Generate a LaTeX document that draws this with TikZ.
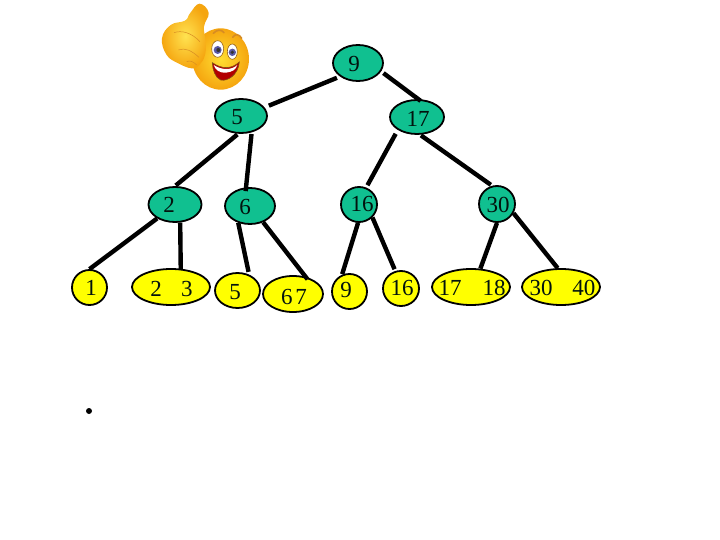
\documentclass[tikz,border=0pt]{standalone}
\usepackage{fontspec}
\setmainfont{Liberation Serif}
\usetikzlibrary{shapes.geometric}
\definecolor{teal1}{RGB}{16,192,144}
\definecolor{yel1}{RGB}{255,255,0}
\definecolor{emoY}{RGB}{255,222,50}
\definecolor{emoO}{RGB}{245,165,15}
\definecolor{emoL}{RGB}{215,140,35}
\tikzset{
  innernode/.style={ellipse,draw=black,line width=1.8pt,fill=teal1,inner sep=0pt},
  leafnode/.style={ellipse,draw=black,line width=1.8pt,fill=yel1,inner sep=0pt},
  txt/.style={inner sep=0pt,font=\fontsize{23}{23}\selectfont,text=black!90!teal1},
  edge1/.style={line width=4.4pt,black},
  emoline/.style={emoL,line width=0.5pt},
}
\begin{document}
\begin{tikzpicture}[x=1pt,y=-1pt]
\useasboundingbox (0,0) rectangle (720,540);
\path
 (358,63) node[innernode,minimum width=50pt,minimum height=36pt] (n9) {}
 (241,116) node[innernode,minimum width=52pt,minimum height=34pt] (n5) {}
 (417,117) node[innernode,minimum width=54pt,minimum height=34pt] (n17) {}
 (175,204.5) node[innernode,minimum width=53pt,minimum height=35pt] (n2) {}
 (250,206) node[innernode,minimum width=50pt,minimum height=36pt] (n6) {}
 (359,204.5) node[innernode,minimum width=36pt,minimum height=35pt] (n16) {}
 (497,204) node[innernode,minimum width=36pt,minimum height=36pt] (n30) {}
 (89.5,287.5) node[leafnode,minimum width=35pt,minimum height=35pt] (l1) {}
 (171,287) node[leafnode,minimum width=78pt,minimum height=36pt] (l23) {}
 (237.5,290.5) node[leafnode,minimum width=45pt,minimum height=35pt] (l5) {}
 (293,294) node[leafnode,minimum width=60pt,minimum height=36pt] (l67) {}
 (349.5,291.5) node[leafnode,minimum width=35pt,minimum height=35pt] (l9) {}
 (401,288.5) node[leafnode,minimum width=36pt,minimum height=35pt] (l16) {}
 (471,287) node[leafnode,minimum width=78pt,minimum height=36pt] (l1718) {}
 (561,287) node[leafnode,minimum width=78pt,minimum height=36pt] (l3040) {};
% connectors
\draw[edge1,shorten <=3.3pt,shorten >=4.6pt] (n9.217) -- (n5.20);
\draw[edge1,shorten <=2.8pt,shorten >=-3pt] (n9.-20) -- (n17.86);
\draw[edge1,shorten <=1.1pt,shorten >=1pt] (n5.261) -- (n2.90);
\draw[edge1,shorten <=1.6pt,shorten >=-3.8pt] (n5.-57) -- (n6.102);
\draw[edge1,shorten <=4.4pt,shorten >=2.6pt] (n17.214) -- (n16.67);
\draw[edge1,shorten <=1pt,shorten >=1.6pt] (n17.-80) -- (n30.105);
\draw[edge1] (n2.218) -- (l1.90);
\draw[edge1,shorten >=-0.6pt] (n2.-74) -- (l23.62);
\draw[edge1,shorten >=2.7pt] (n6.235) -- (l5.54);
\draw[edge1,shorten >=-3.3pt] (n6.-51) -- (l67.54);
\draw[edge1,shorten >=0.6pt] (n16.267) -- (l9.114);
\draw[edge1,shorten >=1.9pt] (n16.-44) -- (l16.108);
\draw[edge1] (n30.270) -- (l1718.63);
\draw[edge1] (n30.-29) -- (l3040.100);
% labels
\node[txt] (t9) at (354,64) {9};
\node[txt] (t5) at (237,117) {5};
\node[txt] (t17) at (418,118.5) {17};
\node[txt] (t2) at (169,205) {2};
\node[txt] (t6) at (245,207) {6};
\node[txt] (t16) at (362,204) {16};
\node[txt] (t30) at (498,205) {30};
\node[txt] (t1) at (91,288) {1};
\node[txt] (t23) at (171.5,289) {2\hspace{19.5pt}3};
\node[txt] (t55) at (235,292) {5};
\node[txt] (t67) at (294,297) {6\hspace{3pt}7};
\node[txt] (t99) at (346,290) {9};
\node[txt] (t166) at (402,288) {16};
\node[txt] (t1718) at (472,288) {17\hspace{21pt}18};
\node[txt] (t3040) at (562.5,288) {30\hspace{20pt}40};
\fill[black] (89,411) circle (3pt);
% emoji
\begin{scope}[shift={(150,0)},x=0.3333pt,y=-0.3333pt]
 % face
 \shade[inner color=emoY,outer color=emoO]
   (212,177) ellipse (85 and 92);
 % eyebrows
 \draw[emoL,line width=1.6pt,line cap=round] (190,100) .. controls (200,88) and (215,88) .. (222,98);
 \draw[emoL,line width=1.6pt,line cap=round] (248,112) .. controls (255,100) and (268,102) .. (275,115);
 % eyes
 \filldraw[fill=white,draw=emoL!70!black,line width=0.6pt] (203,147) ellipse (18 and 25);
 \filldraw[fill=white,draw=emoL!70!black,line width=0.6pt] (247,155) ellipse (15 and 23);
 \fill[blue!30!gray] (203,150) circle (12);
 \fill[blue!30!gray] (247,157) circle (11);
 \fill[black!80] (205,150) circle (6);
 \fill[black!80] (247,157) circle (5.5);
 % mouth
 \filldraw[fill=red!70!black,draw=emoL!60!black,line width=0.6pt]
   (187,188) .. controls (215,208) and (245,208) .. (268,186)
   .. controls (265,225) and (232,245) .. (212,240)
   .. controls (195,232) and (188,210) .. (187,188) -- cycle;
 \fill[white] (191,195) .. controls (215,211) and (245,211) .. (262,195)
   .. controls (258,210) and (245,216) .. (228,218)
   .. controls (210,220) and (196,210) .. (191,195) -- cycle;
 % hand with thumb, one outline
 \shade[inner color=emoY!85!white,outer color=emoO]
   plot[smooth cycle,tension=0.7] coordinates
   {(36,115) (62,75) (105,62) (120,40) (148,11) (176,38) (162,80) (167,125) (165,165) (148,195) (125,205) (85,190) (50,165)};
 \draw[emoline] (72,98) .. controls (95,90) and (125,98) .. (150,125);
 \draw[emoline] (85,150) .. controls (105,142) and (125,152) .. (147,172);
 \draw[emoline] (110,185) .. controls (120,180) and (130,185) .. (140,195);
\end{scope}
\end{tikzpicture}
\end{document}
